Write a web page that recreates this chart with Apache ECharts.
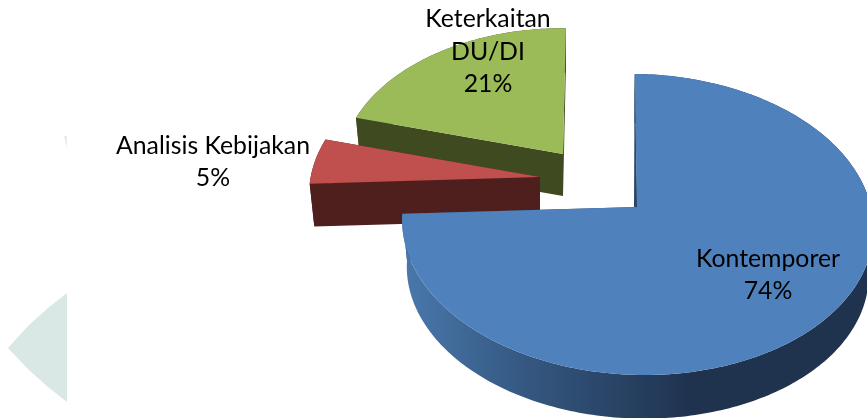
<!DOCTYPE html>
<html>
<head>
<meta charset="utf-8">
<style>html,body{margin:0;padding:0;background:#fff}#c{width:867px;height:418px}</style>
<script src="https://cdn.jsdelivr.net/npm/echarts@6/dist/echarts.min.js"></script>
</head>
<body>
<div id="c"></div>
<script>
var categories = ['Kontemporer', 'Analisis Kebijakan', 'Keterkaitan\nDU/DI'];
var values = [74, 5, 21];

var sliceColors = ['#4f81bd', '#c0504d', '#9bbb59'];
var faceColors = ['#2a4568', '#4f1f1e', '#3f4a20'];
var apexes = [[637, 207], [540, 177], [563, 154]];
var scales = [1, 0.98, 0.945];
var skews = [-0.045, 0, -0.005];
var depths = [47, 43, 42];
var layers = [30, 20, 10];
var labelAnchors = [[768, 275], [213, 162], [488, 52]];

var RX = 234, RY = 148.5, PERSP = 0.116, WALL_SCALE = 0.98, ROTATION = 1;
var total = values.reduce(function (a, b) { return a + b; }, 0);

function project(i, deg, wall) {
  var t = (deg + ROTATION) * Math.PI / 180;
  var w = 1 + PERSP * Math.cos(t);
  var s = scales[i] * (wall ? WALL_SCALE : 1);
  var dy = -RY * Math.cos(t) / w * s;
  var dx = RX * Math.sin(t) / w * s - skews[i] * dy;
  return [apexes[i][0] + dx, apexes[i][1] + dy + (wall ? depths[i] : 0)];
}
function arc(i, a, b, wall) {
  var pts = [];
  var n = Math.max(2, Math.ceil(Math.abs(b - a)));
  for (var k = 0; k <= n; k++) pts.push(project(i, a + (b - a) * k / n, wall));
  return pts;
}
function poly(points, fill, z2) {
  return { type: 'polygon', shape: { points: points }, style: { fill: fill }, z2: z2 };
}

function renderItem(params, api) {
  var i = params.dataIndex;
  var start = 0;
  for (var j = 0; j < i; j++) start += values[j];
  var a0 = start / total * 360;
  var a1 = a0 + api.value(0) / total * 360;
  var apex = apexes[i];
  var apexLow = [apex[0], apex[1] + depths[i]];
  var z = layers[i];
  var wallFill = i === 0
    ? new echarts.graphic.LinearGradient(400, 0, 690, 0, [
        { offset: 0, color: '#4a79ad' },
        { offset: 0.4, color: '#365a84' },
        { offset: 1, color: '#1f334f' }
      ], true)
    : faceColors[i];
  var children = [
    poly([project(i, a0, false), apex, apexLow, project(i, a0, true)], faceColors[i], z),
    poly([project(i, a1, false), apex, apexLow, project(i, a1, true)], faceColors[i], z),
    poly(arc(i, a0, a1, false).concat(arc(i, a1, a0, true)), wallFill, z + 1),
    poly(arc(i, a0, a1, false).concat([apex]), sliceColors[i], z + 2)
  ];
  if (i === 0) {
    children.push(poly([project(i, a0, false), apex, [apex[0] - 3, apex[1]]], faceColors[i], z + 1));
  }
  children.push({
    type: 'text',
    z2: 100,
    style: {
      text: categories[i] + '\n' + api.value(0) + '%',
      x: labelAnchors[i][0],
      y: labelAnchors[i][1],
      align: 'center',
      verticalAlign: 'middle',
      fill: '#000',
      fontFamily: 'Lato',
      fontSize: 24.8,
      lineHeight: 32.5
    }
  });
  return { type: 'group', children: children };
}

var chart = echarts.init(document.getElementById('c'), null, { renderer: 'canvas' });
chart.setOption({
  animation: false,
  backgroundColor: '#fff',
  graphic: [
    { type: 'polygon', silent: true, shape: { points: [[67, 293], [48, 308], [28, 326], [8, 348], [28, 369], [48, 387], [67, 402]] }, style: { fill: '#d9e7e5' } },
    { type: 'polygon', silent: true, shape: { points: [[64, 136], [67, 136], [67, 148]] }, style: { fill: '#e3ecec' } }
  ],
  series: [{
    type: 'custom',
    coordinateSystem: 'none',
    silent: true,
    clip: false,
    renderItem: renderItem,
    data: values.map(function (v) { return [v]; })
  }]
});
</script>
</body>
</html>
